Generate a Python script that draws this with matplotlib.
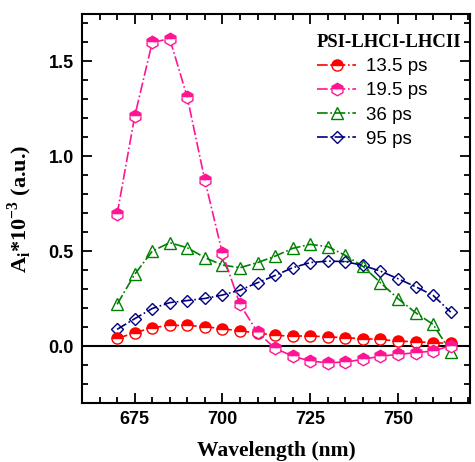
import numpy as np
import matplotlib.pyplot as plt
from matplotlib.ticker import MultipleLocator

# wavelength grid (nm)
wavelength = [670, 675, 680, 685, 690, 695, 700, 705, 710, 715,
              720, 725, 730, 735, 740, 745, 750, 755, 760, 765]

# decay-associated amplitudes (x 10^-3, a.u.)
amp_13_5 = [0.040, 0.070, 0.097, 0.109, 0.109, 0.102, 0.092, 0.079, 0.070, 0.056,
            0.053, 0.053, 0.049, 0.044, 0.039, 0.035, 0.026, 0.023, 0.018, 0.014]
amp_19_5 = [0.694, 1.21, 1.60, 1.62, 1.31, 0.873, 0.488, 0.22, 0.072, -0.012,
            -0.053, -0.079, -0.088, -0.084, -0.070, -0.053, -0.044, -0.035, -0.026, 0.002]
amp_36 = [0.22, 0.378, 0.50, 0.545, 0.518, 0.466, 0.427, 0.413, 0.44, 0.474,
          0.515, 0.536, 0.524, 0.478, 0.42, 0.334, 0.25, 0.176, 0.114, -0.03]
amp_95 = [0.088, 0.144, 0.198, 0.229, 0.24, 0.251, 0.269, 0.295, 0.334, 0.372,
          0.413, 0.44, 0.448, 0.445, 0.425, 0.395, 0.355, 0.313, 0.267, 0.179]

labels = ["13.5 ps", "19.5 ps", "36 ps", "95 ps"]

serif = "Liberation Serif"
plt.rcParams["font.family"] = ["Liberation Sans", "DejaVu Sans"]

fig = plt.figure(figsize=(4.75, 4.62), dpi=100)
ax = fig.add_axes([0.1726, 0.1277, 0.8169, 0.842])

ax.axhline(0, color="black", lw=1.5, zorder=1)

ax.plot(wavelength, amp_13_5, color="#ff0000", ls="-.", lw=1.2, marker="o",
        ms=8, mfc="#ff0000", mec="#ff0000", mfcalt="white", fillstyle="top",
        label=labels[0], zorder=3)
ax.plot(wavelength, amp_19_5, color="#ff1493", ls="-.", lw=1.2, marker="h",
        ms=9, mfc="#ff1493", mec="#ff1493", mfcalt="white", fillstyle="top",
        label=labels[1], zorder=3)
ax.plot(wavelength, amp_36, color="#008000", ls="-.", lw=1.2, marker="^",
        ms=8, mfc="none", mec="#008000", label=labels[2], zorder=2)
ax.plot(wavelength, amp_95, color="#000080", ls="-.", lw=1.2, marker="D",
        ms=6.5, mfc="none", mec="#000080", label=labels[3], zorder=2)

ax.set_xlim(660, 770.5)
ax.set_ylim(-0.30, 1.75)
ax.set_xticks([675, 700, 725, 750])
ax.set_yticks([0.0, 0.5, 1.0, 1.5])
ax.yaxis.set_major_formatter(plt.FuncFormatter(lambda v, p: f"{v:.1f}"))
ax.xaxis.set_minor_locator(MultipleLocator(5))
ax.yaxis.set_minor_locator(MultipleLocator(0.1))
ax.tick_params(which="both", direction="in", top=True, right=True, width=1.3)
ax.tick_params(which="major", length=7, labelsize=13, pad=6)
ax.tick_params(which="minor", length=4)
for lab in ax.get_xticklabels() + ax.get_yticklabels():
    lab.set_fontweight("bold")
for sp in ax.spines.values():
    sp.set_linewidth(1.5)

ax.set_xlabel("Wavelength (nm)", family=serif, fontweight="bold", fontsize=15.5,
              labelpad=9)
ax.set_ylabel(r"A$_\mathregular{i}$*10$^\mathregular{-3}$ (a.u.)", family=serif,
              fontweight="bold", fontsize=16, labelpad=10)

leg = ax.legend(loc="upper right", bbox_to_anchor=(1.01, 0.98), frameon=False,
                fontsize=13.5, handlelength=2.1, handletextpad=0.5,
                labelspacing=0.38, borderpad=0.15, alignment="left",
                title="PSI-LHCI-LHCII",
                title_fontproperties={"family": serif, "weight": "bold", "size": 13.5})

fig.savefig("out.png", dpi=100)
